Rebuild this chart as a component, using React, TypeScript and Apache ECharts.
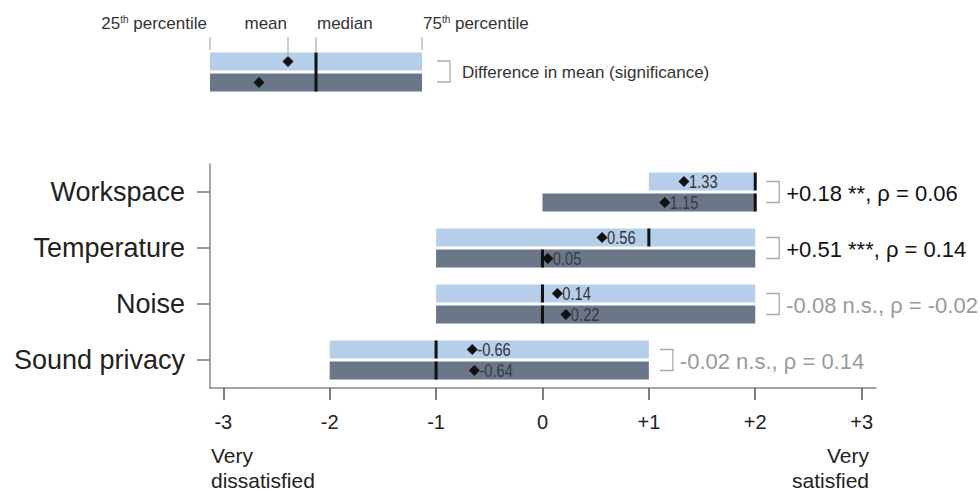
import React, { useEffect, useRef } from "react";
import * as echarts from "echarts";

const categories = ["Workspace", "Temperature", "Noise", "Sound privacy"];

const lightP25 = [1, -1, -1, -2];
const lightP75 = [2, 2, 2, 1];
const lightMedian = [2, 1, 0, -1];
const lightMean = [1.33, 0.56, 0.14, -0.66];

const darkP25 = [0, -1, -1, -2];
const darkP75 = [2, 2, 2, 1];
const darkMedian = [2, 0, 0, -1];
const darkMean = [1.15, 0.05, 0.22, -0.64];

const diffMean = ["+0.18", "+0.51", "-0.08", "-0.02"];
const significance = ["**", "***", "n.s.", "n.s."];
const rho = ["0.06", "0.14", "-0.02", "0.14"];

const xTicks = [-3, -2, -1, 0, 1, 2, 3];

const FONT = "'Liberation Sans', Arial, sans-serif";
const LIGHT = "#b5cfea";
const DARK = "#6b7788";

function boxRenderer(offset: number, fill: string, textColor: string) {
  return (params: any, api: any) => {
    const cat = api.value(0);
    const s = api.coord([api.value(1), cat]);
    const e = api.coord([api.value(2), cat]);
    const m = api.coord([api.value(3), cat]);
    const mean = api.value(4);
    const mc = api.coord([mean, cat]);
    const yc = s[1] + offset;
    const h = 18;
    const d = 5.5;
    return {
      type: "group",
      children: [
        { type: "rect", shape: { x: s[0], y: yc - h / 2, width: e[0] - s[0], height: h }, style: { fill } },
        { type: "rect", shape: { x: m[0] - 1.5, y: yc - h / 2, width: 3, height: h }, style: { fill: "#111" } },
        {
          type: "polygon",
          shape: { points: [[mc[0], yc - d], [mc[0] + d, yc], [mc[0], yc + d], [mc[0] - d, yc]] },
          style: { fill: "#111" },
        },
        {
          type: "text",
          x: mc[0] + 5,
          y: yc + 0.5,
          scaleX: 0.84,
          style: {
            text: mean.toFixed(2),
            fontSize: 17.5,
            fontFamily: FONT,
            fill: textColor,
            align: "left",
            verticalAlign: "middle",
          },
        },
      ],
    };
  };
}

export default function App() {
  const ref = useRef<HTMLDivElement>(null);
  useEffect(() => {
    if (!ref.current) return;
    const chart = echarts.init(ref.current, null, { renderer: "svg" });

    const lightData = categories.map((_, i) => [i, lightP25[i], lightP75[i], lightMedian[i], lightMean[i]]);
    const darkData = categories.map((_, i) => [i, darkP25[i], darkP75[i], darkMedian[i], darkMean[i]]);
    const annData = categories.map((_, i) => [i, Math.max(lightP75[i], darkP75[i])]);

    const gray = "#9a9a9a";
    const legendText = { fontSize: 17, fontFamily: FONT, fill: "#333" };
    const supRich = {
      sup: { fontSize: 10, fontFamily: FONT, fill: "#333", verticalAlign: "top", padding: [0, 0, 6, 0] },
      n: { fontSize: 17, fontFamily: FONT, fill: "#333" },
    };

    const option: any = {
      animation: false,
      backgroundColor: "#ffffff",
      grid: { left: 210, right: 104, top: 164, bottom: 102, containLabel: false },
      xAxis: {
        type: "value",
        min: -3.125,
        max: 3.135,
        splitLine: { show: false },
        axisLine: { show: true, lineStyle: { color: "#888", width: 1.5 } },
        axisTick: { show: true, customValues: xTicks, length: 12, lineStyle: { color: "#555", width: 1.5 } },
        axisLabel: {
          customValues: xTicks,
          fontSize: 20,
          fontFamily: FONT,
          color: "#222",
          margin: 24,
          formatter: (v: number) => (v > 0 ? "+" + v : String(v)),
        },
      },
      yAxis: {
        type: "category",
        data: categories,
        inverse: true,
        axisLine: { show: true, onZero: false, lineStyle: { color: "#888", width: 1.5 } },
        axisTick: { show: true, alignWithLabel: true, length: 13, lineStyle: { color: "#777", width: 1.5 } },
        axisLabel: { fontSize: 27, fontFamily: FONT, color: "#222", margin: 25 },
        splitLine: { show: false },
      },
      series: [
        {
          type: "custom",
          name: "Upper",
          renderItem: boxRenderer(-10.5, LIGHT, "#333"),
          encode: { x: [1, 2, 3, 4], y: 0 },
          data: lightData,
          z: 2,
        },
        {
          type: "custom",
          name: "Lower",
          renderItem: boxRenderer(10.5, DARK, "#363c46"),
          encode: { x: [1, 2, 3, 4], y: 0 },
          data: darkData,
          z: 2,
        },
        {
          type: "custom",
          name: "Difference",
          encode: { x: 1, y: 0 },
          data: annData,
          renderItem: (params: any, api: any) => {
            const i = params.dataIndex;
            const p = api.coord([api.value(1), api.value(0)]);
            const x = p[0];
            const y = p[1];
            const ns = significance[i] === "n.s.";
            return {
              type: "group",
              children: [
                {
                  type: "polyline",
                  shape: { points: [[x + 11, y - 10.5], [x + 24, y - 10.5], [x + 24, y + 10.5], [x + 11, y + 10.5]] },
                  style: { stroke: "#aaa", lineWidth: 1.3, fill: "none" },
                },
                {
                  type: "text",
                  x: x + 31,
                  y: y + 1,
                  style: {
                    text: `${diffMean[i]} ${significance[i]}, ρ = ${rho[i]}`,
                    fontSize: 22,
                    fontFamily: FONT,
                    fill: ns ? gray : "#111",
                    align: "left",
                    verticalAlign: "middle",
                  },
                },
              ],
            };
          },
        },
      ],
      graphic: [
        // legend schematic
        { type: "rect", shape: { x: 210, y: 52.5, width: 212, height: 18 }, style: { fill: LIGHT } },
        { type: "rect", shape: { x: 210, y: 73.5, width: 212, height: 18 }, style: { fill: DARK } },
        { type: "rect", shape: { x: 314.5, y: 52.5, width: 3, height: 39 }, style: { fill: "#111" } },
        { type: "polygon", shape: { points: [[288, 56], [293.5, 61.5], [288, 67], [282.5, 61.5]] }, style: { fill: "#111" } },
        { type: "polygon", shape: { points: [[259, 77], [264.5, 82.5], [259, 88], [253.5, 82.5]] }, style: { fill: "#111" } },
        { type: "line", shape: { x1: 210, y1: 37, x2: 210, y2: 50 }, style: { stroke: "#999", lineWidth: 1 } },
        { type: "line", shape: { x1: 288, y1: 37, x2: 288, y2: 57 }, style: { stroke: "#999", lineWidth: 1 } },
        { type: "line", shape: { x1: 316, y1: 37, x2: 316, y2: 53 }, style: { stroke: "#999", lineWidth: 1 } },
        { type: "line", shape: { x1: 422, y1: 37, x2: 422, y2: 50 }, style: { stroke: "#999", lineWidth: 1 } },
        {
          type: "text",
          x: 207,
          y: 23,
          style: { text: "{n|25}{sup|th}{n| percentile}", rich: supRich, align: "right", verticalAlign: "middle", ...legendText },
        },
        { type: "text", x: 287, y: 23, style: { text: "mean", align: "right", verticalAlign: "middle", ...legendText } },
        { type: "text", x: 317, y: 23, style: { text: "median", align: "left", verticalAlign: "middle", ...legendText } },
        {
          type: "text",
          x: 423,
          y: 23,
          style: { text: "{n|75}{sup|th}{n| percentile}", rich: supRich, align: "left", verticalAlign: "middle", ...legendText },
        },
        {
          type: "polyline",
          shape: { points: [[437, 61], [450, 61], [450, 82], [437, 82]] },
          style: { stroke: "#aaa", lineWidth: 1.3, fill: "none" },
        },
        {
          type: "text",
          x: 462,
          y: 72,
          style: { text: "Difference in mean (significance)", align: "left", verticalAlign: "middle", ...legendText },
        },
        // axis end captions
        {
          type: "text",
          x: 211,
          y: 455,
          style: { text: "Very", fontSize: 21, fontFamily: FONT, fill: "#222", align: "left", verticalAlign: "middle" },
        },
        {
          type: "text",
          x: 211,
          y: 480,
          style: { text: "dissatisfied", fontSize: 21, fontFamily: FONT, fill: "#222", align: "left", verticalAlign: "middle" },
        },
        {
          type: "text",
          x: 869,
          y: 455,
          style: { text: "Very", fontSize: 21, fontFamily: FONT, fill: "#222", align: "right", verticalAlign: "middle" },
        },
        {
          type: "text",
          x: 869,
          y: 480,
          style: { text: "satisfied", fontSize: 21, fontFamily: FONT, fill: "#222", align: "right", verticalAlign: "middle" },
        },
      ],
    };
    chart.setOption(option);
    return () => chart.dispose();
  }, []);
  return (
    <div
      ref={ref}
      style={{ position: "fixed", left: 0, top: 0, width: 980, height: 490, background: "#fff" }}
    />
  );
}
